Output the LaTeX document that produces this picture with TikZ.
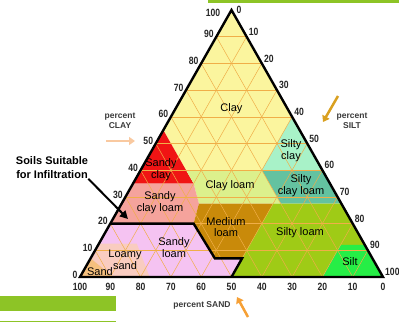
\documentclass[tikz,border=0pt]{standalone}
\usepackage{fontspec}
\setmainfont{Liberation Sans}
\newfontfamily\ticksf[FakeStretch=0.82]{Liberation Sans}
\usepackage{tikz}
\usetikzlibrary{arrows.meta,calc,positioning}

\definecolor{clayC}{HTML}{FBF59E}
\definecolor{sandyclayC}{HTML}{F01414}
\definecolor{sandyclayloamC}{HTML}{F5A39C}
\definecolor{clayloamC}{HTML}{DCF08C}
\definecolor{siltyclayC}{HTML}{A8F2C8}
\definecolor{siltyclayloamC}{HTML}{64C2A0}
\definecolor{loamC}{HTML}{C98A0A}
\definecolor{siltyloamC}{HTML}{9FCB16}
\definecolor{siltC}{HTML}{26EE46}
\definecolor{sandyloamC}{HTML}{F5C3F2}
\definecolor{loamysandC}{HTML}{F9CCC0}
\definecolor{sandC}{HTML}{F5C07E}
\definecolor{gridC}{HTML}{F0AE48}
\definecolor{barC}{HTML}{8DC426}
\definecolor{clayarrowC}{HTML}{F9C9A0}
\definecolor{siltarrowC}{HTML}{D9A020}
\definecolor{sandarrowC}{HTML}{F6A035}
\definecolor{pctC}{HTML}{3A3A3A}

\begin{document}
\begin{tikzpicture}[x=1pt,y=-1pt,
    soilname/.style={font=\fontsize{11}{11.7}\selectfont, align=center, inner sep=0pt},
    tick/.style={font=\ticksf\bfseries\fontsize{10.5}{11}\selectfont, text=black!85, inner sep=0pt},
    pct/.style={font=\bfseries\fontsize{8.5}{10.5}\selectfont, text=pctC, align=center, inner sep=0pt},
    gridline/.style={draw=gridC, line width=0.5pt},
    rim/.style={line width=2.4pt, line join=miter},
    pointer/.style={line width=2.5pt, -{Triangle[length=6pt,width=8pt]}}]
       \useasboundingbox (0,0) rectangle (399,322);
       \clip (0,0) rectangle (399,322);

       % corners: sand, clay, silt (weights below are fractions)
       \coordinate (S) at (80,277);
       \coordinate (C) at (231.5,10);
       \coordinate (I) at (383,277);

       % texture classes
       \fill[clayC] (barycentric cs:S=.45,C=.55) -- (C) -- (barycentric cs:C=.6,I=.4)
              -- (barycentric cs:S=.2,C=.4,I=.4) -- (barycentric cs:S=.45,C=.4,I=.15) -- cycle;
       \fill[sandyclayC] (barycentric cs:S=.65,C=.35) -- (barycentric cs:S=.45,C=.55)
              -- (barycentric cs:S=.45,C=.35,I=.2) -- cycle;
       \fill[siltyclayC] (barycentric cs:C=.6,I=.4) -- (barycentric cs:C=.4,I=.6)
              -- (barycentric cs:S=.2,C=.4,I=.4) -- cycle;
       \fill[siltyclayloamC] (barycentric cs:S=.2,C=.4,I=.4) -- (barycentric cs:C=.4,I=.6)
              -- (barycentric cs:C=.275,I=.725) -- (barycentric cs:S=.2,C=.275,I=.525) -- cycle;
       \fill[clayloamC] (barycentric cs:S=.45,C=.4,I=.15) -- (barycentric cs:S=.2,C=.4,I=.4)
              -- (barycentric cs:S=.2,C=.275,I=.525) -- (barycentric cs:S=.47,C=.275,I=.255)
              -- (barycentric cs:S=.45,C=.35,I=.2) -- cycle;
       \fill[sandyclayloamC] (barycentric cs:S=.65,C=.35) -- (barycentric cs:S=.45,C=.35,I=.2)
              -- (barycentric cs:S=.47,C=.275,I=.255) -- (barycentric cs:S=.525,C=.2,I=.275)
              -- (barycentric cs:S=.8,C=.2) -- cycle;
       \fill[loamC] (barycentric cs:S=.47,C=.275,I=.255) -- (barycentric cs:S=.225,C=.275,I=.5)
              -- (barycentric cs:S=.43,C=.07,I=.5) -- (barycentric cs:S=.52,C=.07,I=.41)
              -- (barycentric cs:S=.525,C=.2,I=.275) -- cycle;
       \fill[siltyloamC] (barycentric cs:S=.225,C=.275,I=.5) -- (barycentric cs:C=.275,I=.725)
              -- (barycentric cs:C=.12,I=.88) -- (barycentric cs:S=.08,C=.12,I=.8)
              -- (barycentric cs:S=.2,I=.8) -- (barycentric cs:S=.5,I=.5)
              -- (barycentric cs:S=.43,C=.07,I=.5) -- cycle;
       \fill[siltC] (barycentric cs:S=.08,C=.12,I=.8) -- (barycentric cs:C=.12,I=.88) -- (I)
              -- (barycentric cs:S=.2,I=.8) -- cycle;
       \fill[sandyloamC] (barycentric cs:S=.8,C=.2) -- (barycentric cs:S=.525,C=.2,I=.275)
              -- (barycentric cs:S=.52,C=.07,I=.41) -- (barycentric cs:S=.43,C=.07,I=.5)
              -- (barycentric cs:S=.5,I=.5) -- (S) -- cycle;
       \fill[loamysandC] (barycentric cs:S=.875,C=.125) -- (barycentric cs:S=.75,C=.125,I=.125)
              -- (barycentric cs:S=.77,I=.23) -- (barycentric cs:S=.89,I=.11)
              -- (barycentric cs:S=.93,C=.07) -- cycle;
       \fill[sandC] (S) -- (barycentric cs:S=.93,C=.07) -- (barycentric cs:S=.89,I=.11) -- cycle;

       % 10 percent grid
       \foreach \k in {10,20,...,90} {
         \draw[gridline] ($(S)!\k/100!(C)$) -- ($(I)!\k/100!(C)$);
         \draw[gridline] ($(S)!\k/100!(I)$) -- ($(C)!\k/100!(I)$);
         \draw[gridline] ($(I)!\k/100!(S)$) -- ($(C)!\k/100!(S)$);
       }

       % outline and infiltration border
       \draw[rim] (S) -- (C) -- (I) -- cycle;
       \draw[rim] (barycentric cs:S=.8,C=.2) -- (barycentric cs:S=.525,C=.2,I=.275)
              -- (barycentric cs:S=.52,C=.07,I=.41) -- (barycentric cs:S=.43,C=.07,I=.5)
              -- (barycentric cs:S=.5,I=.5);

       % class names
       \node[soilname] (clay) at (231.5,109) {Clay};
       \node[soilname] (siltyclay) at (291,151) {Silty\\clay};
       \node[soilname] (sandyclay) at (161,170) {Sandy\\clay};
       \node[soilname] (clayloam) at (230,186) {Clay loam};
       \node[soilname] (siltyclayloam) at (301,186) {Silty\\clay loam};
       \node[soilname] (sandyclayloam) at (160,202.5) {Sandy\\clay loam};
       \node[soilname] (mediumloam) at (226,227) {Medium\\loam};
       \node[soilname] (siltyloam) at (300,233) {Silty loam};
       \node[soilname] (sandyloam) at (174,247.5) {Sandy\\loam};
       \node[soilname] (loamysand) at (125,260) {Loamy\\sand};
       \node[soilname] (sand) at (100,272) {Sand};
       \node[soilname] (silt) at (350,262) {Silt};

       % axis numbers
       \foreach \k in {0,10,...,90} {
         \node[tick, anchor=east, xshift=-2.5pt, yshift=2.5pt] (cl\k) at ($(S)!\k/100!(C)$) {\k};
       }
       \foreach \k in {10,20,...,100} {
         \node[tick, anchor=west, xshift=2pt, yshift=5pt] (si\k) at ($(C)!\k/100!(I)$) {\k};
       }
       \foreach \k in {0,10,...,100} {
         \node[tick, anchor=north, yshift=-6pt] (sa\k) at ($(I)!\k/100!(S)$) {\k};
       }
       \node[tick] (cl100) at (213,12.5) {100};
       \node[tick] (si0) at (239,9.5) {0};

       % axis names
       \node[pct] (clayname) at (120,121) {percent\\CLAY};
       \coordinate (claytail) at (106,141);
       \coordinate (clayhead) at (135,141);
       \draw[pointer, draw=clayarrowC, fill=clayarrowC] (claytail) -- (clayhead);

       \node[pct] (siltname) at (352,121) {percent\\SILT};
       \coordinate (silttail) at (338,96);
       \coordinate (silthead) at (323,122);
       \draw[pointer, draw=siltarrowC, fill=siltarrowC] (silttail) -- (silthead);

       \node[pct] (sandname) at (202,305) {percent SAND};
       \coordinate (sandtail) at (248,317);
       \coordinate (sandhead) at (237,297);
       \draw[pointer, draw=sandarrowC, fill=sandarrowC] (sandtail) -- (sandhead);

       \node[font=\bfseries\fontsize{11}{14}\selectfont, align=center, inner sep=0pt] (infil) at (52,167.5) {Soils Suitable\\for Infiltration};
       \coordinate (infiltip) at (128,219);
       \draw[line width=2pt, -{Triangle[length=8pt,width=8pt]}] (infil.south east) -- (infiltip);

       % green bars
       \fill[barC] (208,0) rectangle (399,2.5);
       \fill[barC] (0,296) rectangle (116,311);
       \draw[barC, line width=1pt] (0,321) -- (116,321);
     \end{tikzpicture}
\end{document}
